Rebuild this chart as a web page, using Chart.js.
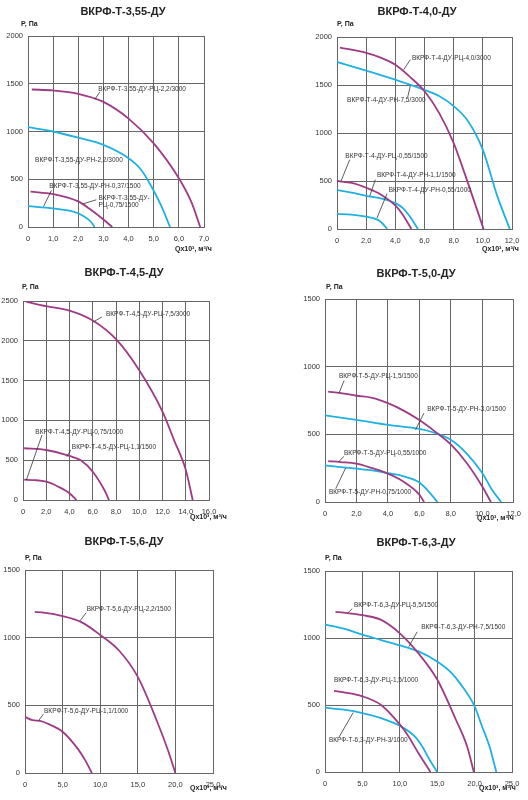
<!DOCTYPE html>
<html lang="ru">
<head>
  <meta charset="UTF-8">
  <title>ВКРФ-Т-ДУ</title>
  <script src="https://cdn.jsdelivr.net/npm/chart.js"></script>
  <style>
    body { margin: 0; background: #fff; }
    .wrap { position: relative; width: 528px; height: 800px; }
    canvas { position: absolute; }
  </style>
</head>
<body>
  <div class="wrap" id="wrap"></div>

  <script>
    // tick labels
    const xTicks7 = ['0', '1,0', '2,0', '3,0', '4,0', '5,0', '6,0', '7,0'];
    const xTicks12 = ['0', '2,0', '4,0', '6,0', '8,0', '10,0', '12,0'];
    const xTicks16 = ['0', '2,0', '4,0', '6,0', '8,0', '10,0', '12,0', '14,0', '16,0'];
    const xTicks25 = ['0', '5,0', '10,0', '15,0', '20,0', '25,0'];
    const yTicks1500 = ['0', '500', '1000', '1500'];
    const yTicks2000 = ['0', '500', '1000', '1500', '2000'];
    const yTicks2500 = ['0', '500', '1000', '1500', '2000', '2500'];

    // ВКРФ-Т-3,55-ДУ  [Q x10^3 м3/ч, P Па]
    const t355_rc22_3000 = [[0.15, 1440], [1, 1430], [2, 1395], [3, 1310], [4, 1135], [5, 875], [6, 510], [6.5, 260], [6.85, 0]];
    const t355_rn22_3000 = [[0, 1045], [1, 1000], [2, 935], [3, 860], [4, 720], [4.5, 600], [5, 380], [5.3, 220], [5.65, 0]];
    const t355_rc075_1500 = [[0.1, 370], [1, 345], [2, 268], [2.5, 180], [3, 78], [3.35, 0]];
    const t355_rn037_1500 = [[0, 218], [1, 195], [1.8, 160], [2.2, 115], [2.5, 55], [2.65, 0]];

    // ВКРФ-Т-4,0-ДУ
    const t40_rc40_3000 = [[0.2, 1890], [2, 1835], [3, 1785], [4, 1710], [5, 1585], [6, 1435], [7, 1210], [8, 895], [9, 470], [10.05, 0]];
    const t40_rn75_3000 = [[0, 1740], [2, 1650], [4, 1555], [6, 1450], [7, 1385], [8, 1280], [9, 1120], [10, 825], [11, 340], [11.85, 0]];
    const t40_rc055_1500 = [[0, 500], [1, 480], [2, 430], [3, 360], [4, 245], [4.5, 150], [5.1, 0]];
    const t40_rn11_1500 = [[0, 405], [1, 378], [2, 345], [3, 320], [4, 270], [4.5, 220], [5, 130], [5.55, 0]];
    const t40_rn055_1000 = [[0, 158], [1, 150], [2, 128], [2.8, 95], [3.1, 60], [3.45, 0]];

    // ВКРФ-Т-4,5-ДУ
    const t45_rc75_3000 = [[0.3, 2490], [2, 2435], [4, 2380], [6, 2255], [8, 2020], [10, 1630], [12, 1110], [13, 750], [14, 380], [14.6, 0]];
    const t45_rc11_1500 = [[0.1, 650], [2, 628], [4, 555], [5, 495], [6, 355], [7, 125], [7.4, 0]];
    const t45_rc075_1000 = [[0.1, 255], [1, 250], [2, 230], [3, 170], [4, 85], [4.6, 0]];

    // ВКРФ-Т-5,0-ДУ
    const t50_rc15_1500 = [[0.2, 815], [1, 805], [2, 785], [3, 770], [4, 730], [5, 675], [6, 605], [7, 520], [8, 425], [9, 290], [10, 115], [10.55, 0]];
    const t50_rn30_1500 = [[0, 640], [2, 607], [4, 570], [6, 540], [7, 510], [8, 460], [9, 360], [10, 215], [10.6, 95], [11.2, 0]];
    const t50_rc055_1000 = [[0.2, 302], [1, 295], [2, 283], [3, 250], [4, 210], [5, 150], [6, 55], [6.3, 0]];
    const t50_rn075_1000 = [[0, 270], [1, 258], [2, 246], [3, 233], [4, 214], [5, 190], [6, 145], [6.5, 90], [7.15, 0]];

    // ВКРФ-Т-5,6-ДУ
    const t56_rc22_1500 = [[1.3, 1190], [2.5, 1185], [5, 1160], [7.5, 1115], [10, 1020], [12.5, 905], [15, 710], [17.5, 390], [19, 170], [20, 0]];
    const t56_rc11_1000 = [[0, 415], [1, 390], [2, 385], [3, 365], [5, 305], [7, 180], [8, 95], [8.9, 0]];

    // ВКРФ-Т-6,3-ДУ
    const t63_rc55_1500 = [[1.4, 1195], [2.5, 1190], [5, 1170], [7.5, 1135], [10, 1035], [12.5, 885], [15, 690], [17.5, 390], [19, 190], [19.9, 0]];
    const t63_rn75_1500 = [[0, 1100], [2.5, 1070], [5, 1025], [7.5, 985], [10, 945], [12.5, 900], [15, 825], [17, 735], [18, 665], [20, 490], [21, 340], [22, 190], [22.9, 0]];
    const t63_rc15_1000 = [[1.2, 605], [2.5, 595], [5, 565], [7.5, 500], [10, 355], [11, 280], [12.5, 140], [14.1, 0]];
    const t63_rn3_1000 = [[0, 480], [2.5, 465], [5, 440], [7.5, 402], [10, 345], [12, 265], [13, 190], [14, 90], [15, 0]];

    const RC = '#9e3b84';   // РЦ curves
    const RN = '#1fb1e2';   // РН curves
    const GRID = '#666';
    const FONT = '"Liberation Sans", Arial, sans-serif';

    const panels = [
      {
        title: 'ВКРФ-Т-3,55-ДУ', left: 0, top: 0, w: 264, h: 260, area: [28, 36, 204, 227],
        xMax: 7, xStep: 1, xTicks: xTicks7, yMax: 2000, yTicks: yTicks2000,
        titlePos: [123, 12], pPos: [21, 24], qPos: [175, 249],
        curves: [[t355_rc22_3000, RC], [t355_rn22_3000, RN], [t355_rc075_1500, RC], [t355_rn037_1500, RN]],
        notes: [
          { t: 'ВКРФ-Т-3,55-ДУ-РЦ-2,2/3000', at: [2.79, 1445], line: [2.86, 1416, 2.66, 1336] },
          { t: 'ВКРФ-Т-3,55-ДУ-РН-2,2/3000', at: [0.28, 696] },
          { t: 'ВКРФ-Т-3,55-ДУ-РН-0,37/1500', at: [0.85, 431], line: [0.93, 383, 0.62, 216] },
          { t: 'ВКРФ-Т-3,55-ДУ-', at: [2.8, 303], line: [2.72, 285, 2.19, 243] },
          { t: 'РЦ-0,75/1500', at: [2.8, 226] }
        ]
      },
      {
        title: 'ВКРФ-Т-4,0-ДУ', left: 264, top: 0, w: 264, h: 260, area: [337, 37, 512, 229],
        xMax: 12, xStep: 2, xTicks: xTicks12, yMax: 2000, yTicks: yTicks2000,
        titlePos: [153, 12], pPos: [73, 24], qPos: [218, 249],
        curves: [[t40_rc40_3000, RC], [t40_rn75_3000, RN], [t40_rc055_1500, RC], [t40_rn11_1500, RN], [t40_rn055_1000, RN]],
        notes: [
          { t: 'ВКРФ-Т-4-ДУ-РЦ-4,0/3000', at: [5.14, 1778], line: [5.03, 1764, 4.57, 1660] },
          { t: 'ВКРФ-Т-4-ДУ-РН-7,5/3000', at: [0.69, 1337], line: [4.85, 1375, 5.03, 1493] },
          { t: 'ВКРФ-Т-4-ДУ-РЦ-0,55/1500', at: [0.57, 757], line: [0.87, 722, 0.27, 497] },
          { t: 'ВКРФ-Т-4-ДУ-РН-1,1/1500', at: [2.74, 556], line: [2.63, 514, 2.24, 340] },
          { t: 'ВКРФ-Т-4-ДУ-РН-0,55/1000', at: [3.54, 403], line: [3.43, 368, 2.74, 115] }
        ]
      },
      {
        title: 'ВКРФ-Т-4,5-ДУ', left: 0, top: 260, w: 264, h: 270, area: [23, 301, 209, 500],
        xMax: 16, xStep: 2, xTicks: xTicks16, yMax: 2500, yTicks: yTicks2500,
        titlePos: [124, 13], pPos: [22, 27], qPos: [190, 257],
        curves: [[t45_rc75_3000, RC], [t45_rc11_1500, RC], [t45_rc075_1000, RC]],
        notes: [
          { t: 'ВКРФ-Т-4,5-ДУ-РЦ-7,5/3000', at: [7.14, 2329], line: [6.77, 2299, 6.06, 2237] },
          { t: 'ВКРФ-Т-4,5-ДУ-РЦ-0,75/1000', at: [1.06, 849], line: [1.63, 815, 0.29, 251] },
          { t: 'ВКРФ-Т-4,5-ДУ-РЦ-1,1/1500', at: [4.2, 669], line: [4.11, 627, 3.77, 543] }
        ]
      },
      {
        title: 'ВКРФ-Т-5,0-ДУ', left: 264, top: 260, w: 264, h: 270, area: [325, 299, 514, 502],
        xMax: 12, xStep: 2, xTicks: xTicks12, yMax: 1500, yTicks: yTicks1500,
        titlePos: [152, 14], pPos: [62, 27], qPos: [213, 258],
        curves: [[t50_rc15_1500, RC], [t50_rn30_1500, RN], [t50_rc055_1000, RC], [t50_rn075_1000, RN]],
        notes: [
          { t: 'ВКРФ-Т-5-ДУ-РЦ-1,5/1500', at: [0.89, 927], line: [1.21, 897, 0.89, 804] },
          { t: 'ВКРФ-Т-5-ДУ-РН-3,0/1500', at: [6.5, 686], line: [6.29, 656, 5.76, 534] },
          { t: 'ВКРФ-Т-5-ДУ-РЦ-0,55/1000', at: [1.21, 361], line: [1.21, 337, 0.89, 300] },
          { t: 'ВКРФ-Т-5-ДУ-РН-0,75/1000', at: [0.25, 74], line: [0.68, 98, 1.31, 251] }
        ]
      },
      {
        title: 'ВКРФ-Т-5,6-ДУ', left: 0, top: 530, w: 264, h: 270, area: [25, 570, 213, 773],
        xMax: 25, xStep: 5, xTicks: xTicks25, yMax: 1500, yTicks: yTicks1500,
        titlePos: [124, 12], pPos: [25, 28], qPos: [190, 258],
        curves: [[t56_rc22_1500, RC], [t56_rc11_1000, RC]],
        notes: [
          { t: 'ВКРФ-Т-5,6-ДУ-РЦ-2,2/1500', at: [8.21, 1209], line: [8.13, 1184, 7.33, 1125] },
          { t: 'ВКРФ-Т-5,6-ДУ-РЦ-1,1/1000', at: [2.53, 456], line: [2.44, 434, 1.78, 385] }
        ]
      },
      {
        title: 'ВКРФ-Т-6,3-ДУ', left: 264, top: 530, w: 264, h: 270, area: [325, 571, 512, 772],
        xMax: 25, xStep: 5, xTicks: xTicks25, yMax: 1500, yTicks: yTicks1500,
        titlePos: [152, 13], pPos: [61, 28], qPos: [215, 258],
        curves: [[t63_rc55_1500, RC], [t63_rn75_1500, RN], [t63_rc15_1000, RC], [t63_rn3_1000, RN]],
        notes: [
          { t: 'ВКРФ-Т-6,3-ДУ-РЦ-5,5/1500', at: [3.87, 1242], line: [3.65, 1220, 3.07, 1188] },
          { t: 'ВКРФ-Т-6,3-ДУ-РН-7,5/1500', at: [12.86, 1079], line: [12.32, 1046, 11.21, 935] },
          { t: 'ВКРФ-Т-6,3-ДУ-РЦ-1,5/1000', at: [1.2, 682] },
          { t: 'ВКРФ-Т-6,3-ДУ-РН-3/1000', at: [0.53, 236], line: [1.87, 260, 3.78, 444] }
        ]
      }
    ];

    // titles, axis captions and curve captions with leader lines
    function textPlugin(p) {
      return {
        id: 'panelText',
        afterDraw(chart) {
          const ctx = chart.ctx;
          const xs = chart.scales.x, ys = chart.scales.y;
          ctx.save();
          ctx.fillStyle = '#222';
          ctx.textBaseline = 'middle';
          ctx.textAlign = 'center';
          ctx.font = 'bold 11px ' + FONT;
          ctx.fillText(p.title, p.titlePos[0], p.titlePos[1]);

          ctx.textAlign = 'left';
          ctx.font = 'bold 7px ' + FONT;
          ctx.fillText('P, Па', p.pPos[0], p.pPos[1]);
          ctx.fillText('Qx10³, м³/ч', p.qPos[0], p.qPos[1]);

          ctx.font = '6.5px ' + FONT;
          ctx.fillStyle = '#333';
          ctx.strokeStyle = '#333';
          ctx.lineWidth = 0.8;
          p.notes.forEach(n => {
            if (n.line) {
              ctx.beginPath();
              ctx.moveTo(xs.getPixelForValue(n.line[0]), ys.getPixelForValue(n.line[1]));
              ctx.lineTo(xs.getPixelForValue(n.line[2]), ys.getPixelForValue(n.line[3]));
              ctx.stroke();
            }
            ctx.fillText(n.t, xs.getPixelForValue(n.at[0]), ys.getPixelForValue(n.at[1]));
          });
          ctx.restore();
        }
      };
    }

    const wrap = document.getElementById('wrap');

    panels.forEach(p => {
      const canvas = document.createElement('canvas');
      canvas.width = p.w;
      canvas.height = p.h;
      canvas.style.left = p.left + 'px';
      canvas.style.top = p.top + 'px';
      canvas.style.width = p.w + 'px';
      canvas.style.height = p.h + 'px';
      wrap.appendChild(canvas);

      const [aL, aT, aR, aB] = p.area;

      new Chart(canvas.getContext('2d'), {
        type: 'line',
        data: {
          datasets: p.curves.map(([pts, color]) => ({
            data: pts.map(([q, pr]) => ({ x: q, y: pr })),
            borderColor: color,
            borderWidth: 1.8,
            pointRadius: 0,
            fill: false,
            cubicInterpolationMode: 'monotone'
          }))
        },
        options: {
          responsive: false,
          animation: false,
          events: [],
          layout: {
            padding: { left: 0, top: aT - p.top, right: p.left + p.w - aR, bottom: 0 }
          },
          plugins: {
            legend: { display: false },
            tooltip: { enabled: false }
          },
          scales: {
            x: {
              type: 'linear',
              min: 0,
              max: p.xMax,
              grid: { color: GRID, lineWidth: 1, drawTicks: false },
              border: { display: true, color: GRID, width: 1 },
              ticks: {
                stepSize: p.xStep,
                padding: 7,
                color: '#333',
                font: { family: FONT, size: 7.5 },
                maxRotation: 0,
                autoSkip: false,
                callback: (v, i) => p.xTicks[i]
              },
              afterFit: s => { s.height = p.top + p.h - aB; }
            },
            y: {
              min: 0,
              max: p.yMax,
              grid: { color: GRID, lineWidth: 1, drawTicks: false },
              border: { display: true, color: GRID, width: 1 },
              ticks: {
                stepSize: 500,
                padding: 5,
                color: '#333',
                font: { family: FONT, size: 7.5 },
                autoSkip: false,
                callback: (v, i) => p.yTicks[i]
              },
              afterFit: s => { s.width = aL - p.left; }
            }
          }
        },
        plugins: [textPlugin(p)]
      });
    });
  </script>
</body>
</html>
